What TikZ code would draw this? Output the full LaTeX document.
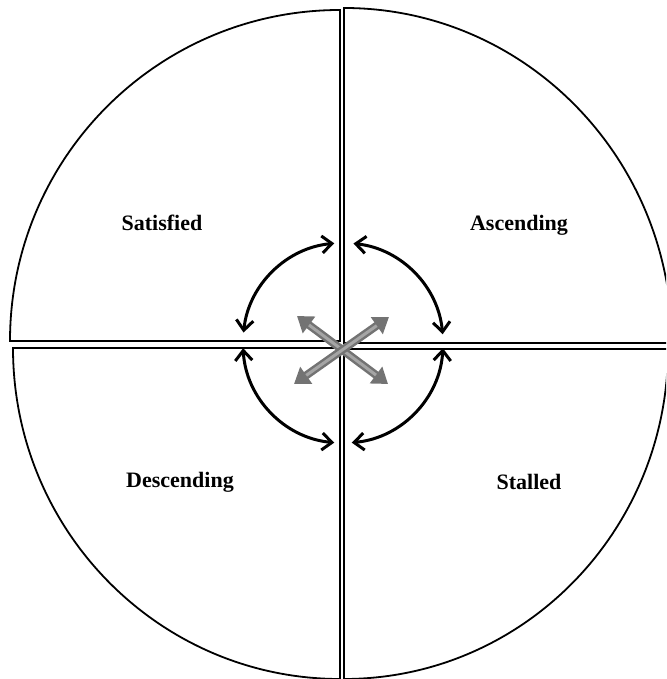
\documentclass[tikz,border=0pt]{standalone}
\usepackage{fontspec}
\setmainfont{Liberation Serif}
\usepackage{tikz}
\usetikzlibrary{arrows.meta, positioning, calc}
\definecolor{xgray}{RGB}{115,115,115}
\definecolor{xlight}{RGB}{165,165,165}

\begin{document}
\begin{tikzpicture}[
    x=1pt, y=1pt,
    sector/.style={draw, line width=1.8pt, line join=miter},
    lbl/.style={font=\bfseries\fontsize{22}{26}\selectfont},
    cyc/.style={line width=3pt, {Straight Barb[length=10pt,width=17pt]}-{Straight Barb[length=10pt,width=17pt]}},
    xarr/.style={line width=8pt, xgray, {Triangle[length=15pt,width=20pt]}-{Triangle[length=15pt,width=20pt]}},
    xhi/.style={line width=3pt, xlight, shorten <=15pt, shorten >=15pt},
]
    \useasboundingbox (0,0) rectangle (666,679);
    \clip (0,0) rectangle (666,679);
    % four quarters
    \draw[sector] (340,338) -- ++(0,331) arc[start angle=90, end angle=180, x radius=330, y radius=331] -- cycle;
    \draw[sector] (344,336) -- ++(328,0) arc[start angle=0, end angle=90, x radius=328, y radius=335] -- cycle;
    \draw[sector] (344,330) -- ++(0,-330) arc[start angle=270, end angle=360, x radius=324, y radius=330] -- cycle;
    \draw[sector] (340,331) -- ++(-327,0) arc[start angle=180, end angle=270, x radius=327, y radius=331] -- cycle;
    % labels
    \node[lbl] (sat) at (162,456) {Satisfied};
    \node[lbl] (asc) at (519,454) {Ascending};
    \node[lbl] (desc) at (180,197) {Descending};
    \node[lbl] (stall) at (529,197) {Stalled};
    % cycle arrows
    \coordinate (ctr) at (343,336);
    \draw[cyc] ([shift={(ctr)}]95:100) arc[start angle=95, end angle=174, radius=100];
    \draw[cyc] ([shift={(ctr)}]84:100) arc[start angle=84, end angle=5, radius=100];
    \draw[cyc] ([shift={(ctr)}]-3:100) arc[start angle=-3, end angle=-85, radius=100];
    \draw[cyc] ([shift={(ctr)}]183:100) arc[start angle=183, end angle=265, radius=100];
    % cross
    \coordinate (nw) at (297,363);
    \coordinate (se) at (388,295);
    \coordinate (sw) at (294,295);
    \coordinate (ne) at (389,362);
    \draw[xarr] (nw) -- (se);
    \draw[xhi] (nw) -- (se);
    \draw[xarr] (sw) -- (ne);
    \draw[xhi] (sw) -- (ne);
\end{tikzpicture}
\end{document}
